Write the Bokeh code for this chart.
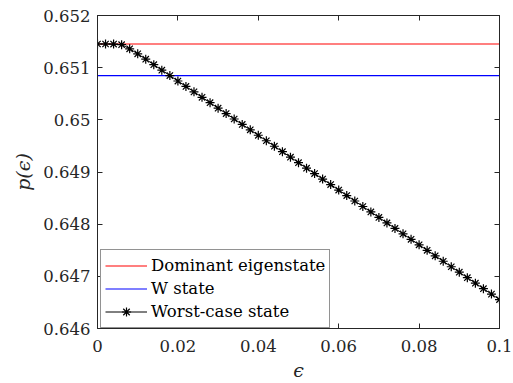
from bokeh.plotting import figure
from bokeh.models import (LinearAxis, FixedTicker, CustomJSTickFormatter, Legend,
                          LegendItem, Range1d)
from bokeh.embed import file_html
from bokeh.resources import INLINE

# ---------------- data ----------------
epsilon = [0.000, 0.002, 0.004, 0.006, 0.008, 0.010, 0.012, 0.014, 0.016, 0.018,
           0.020, 0.022, 0.024, 0.026, 0.028, 0.030, 0.032, 0.034, 0.036, 0.038,
           0.040, 0.042, 0.044, 0.046, 0.048, 0.050, 0.052, 0.054, 0.056, 0.058,
           0.060, 0.062, 0.064, 0.066, 0.068, 0.070, 0.072, 0.074, 0.076, 0.078,
           0.080, 0.082, 0.084, 0.086, 0.088, 0.090, 0.092, 0.094, 0.096, 0.098,
           0.100]
worst_case = [0.651454, 0.651454, 0.651452, 0.651440, 0.651362, 0.651265, 0.651162,
              0.651057, 0.650952, 0.650848, 0.650744, 0.650640, 0.650536, 0.650432,
              0.650328, 0.650224, 0.650120, 0.650016, 0.649912, 0.649808, 0.649704,
              0.649599, 0.649494, 0.649389, 0.649284, 0.649179, 0.649074, 0.648969,
              0.648864, 0.648759, 0.648654, 0.648549, 0.648444, 0.648339, 0.648234,
              0.648129, 0.648024, 0.647919, 0.647814, 0.647709, 0.647604, 0.647499,
              0.647394, 0.647289, 0.647184, 0.647079, 0.646974, 0.646869, 0.646764,
              0.646659, 0.646554]
dominant_value = 0.651454
w_value = 0.650849

x_ticks = [0, 0.02, 0.04, 0.06, 0.08, 0.1]
x_tick_labels = ["0", "0.02", "0.04", "0.06", "0.08", "0.1"]
y_ticks = [0.646, 0.647, 0.648, 0.649, 0.65, 0.651, 0.652]
y_tick_labels = ["0.646", "0.647", "0.648", "0.649", "0.65", "0.651", "0.652"]

series_labels = ["Dominant eigenstate", "W state", "Worst-case state"]

# ---------------- figure ----------------
FONT = "DejaVu Serif"
AX = "#262626"

p = figure(width=513, height=383, output_backend="svg", toolbar_location=None,
           x_range=Range1d(0, 0.1), y_range=Range1d(0.646, 0.652),
           min_border_left=97, min_border_right=14, min_border_top=15,
           min_border_bottom=54)
p.background_fill_color = "white"
p.border_fill_color = "white"
p.outline_line_color = AX
p.xgrid.visible = False
p.ygrid.visible = False


def fmt(ticks, labels):
    return CustomJSTickFormatter(args=dict(tk=ticks, lb=labels), code="""
        for (let i = 0; i < tk.length; i++) {
            if (Math.abs(tk[i] - tick) < 1e-9) return lb[i];
        }
        return '';
    """)


def style_axis(ax, ticks):
    ax.ticker = FixedTicker(ticks=ticks)
    ax.axis_line_color = AX
    ax.major_tick_line_color = AX
    ax.minor_tick_line_color = None
    ax.major_tick_in = 5
    ax.major_tick_out = 0
    ax.major_label_text_font = FONT
    ax.major_label_text_font_size = "16.5px"
    ax.major_label_text_color = AX
    ax.axis_label_text_font = FONT
    ax.axis_label_text_font_size = "19px"
    ax.axis_label_text_color = AX
    ax.axis_label_text_font_style = "italic"


xa = p.xaxis[0]
style_axis(xa, x_ticks)
xa.formatter = fmt(x_ticks, x_tick_labels)
xa.major_label_standoff = 11
xa.axis_label = "ϵ"
xa.axis_label_standoff = 4

ya = p.yaxis[0]
style_axis(ya, y_ticks)
ya.formatter = fmt(y_ticks, y_tick_labels)
ya.major_label_standoff = 7
ya.axis_label = "p(ϵ)"
ya.axis_label_standoff = 6

for loc, ticks in (("above", x_ticks), ("right", y_ticks)):
    ax = LinearAxis()
    style_axis(ax, ticks)
    ax.formatter = CustomJSTickFormatter(code="return '';")
    ax.major_label_text_font_size = "0px"
    ax.major_label_standoff = 0
    p.add_layout(ax, loc)

# ---------------- glyphs ----------------
r_dom = p.line(epsilon, [dominant_value] * len(epsilon), line_color="#ff0000", line_width=1.2)
r_w = p.line(epsilon, [w_value] * len(epsilon), line_color="#0000ff", line_width=1.2)
r_wc_line = p.line(epsilon, worst_case, line_color="black", line_width=1)
r_wc_mark = p.scatter(epsilon, worst_case, marker="asterisk", size=9,
                      line_color="black", line_width=1.2)

legend = Legend(items=[
    LegendItem(label=series_labels[0], renderers=[r_dom]),
    LegendItem(label=series_labels[1], renderers=[r_w]),
    LegendItem(label=series_labels[2], renderers=[r_wc_line, r_wc_mark]),
], location=(3, 0))
legend.label_text_font = FONT
legend.label_text_font_size = "16.5px"
legend.label_text_color = "black"
legend.label_standoff = 4
legend.label_height = 23
legend.glyph_width = 42
legend.glyph_height = 23
legend.padding = 4
legend.spacing = 0
legend.margin = 0
legend.border_line_color = AX
legend.border_line_width = 1
legend.background_fill_color = "white"
legend.background_fill_alpha = 1.0
p.add_layout(legend)

open("out.html", "w").write(file_html(p, INLINE))
